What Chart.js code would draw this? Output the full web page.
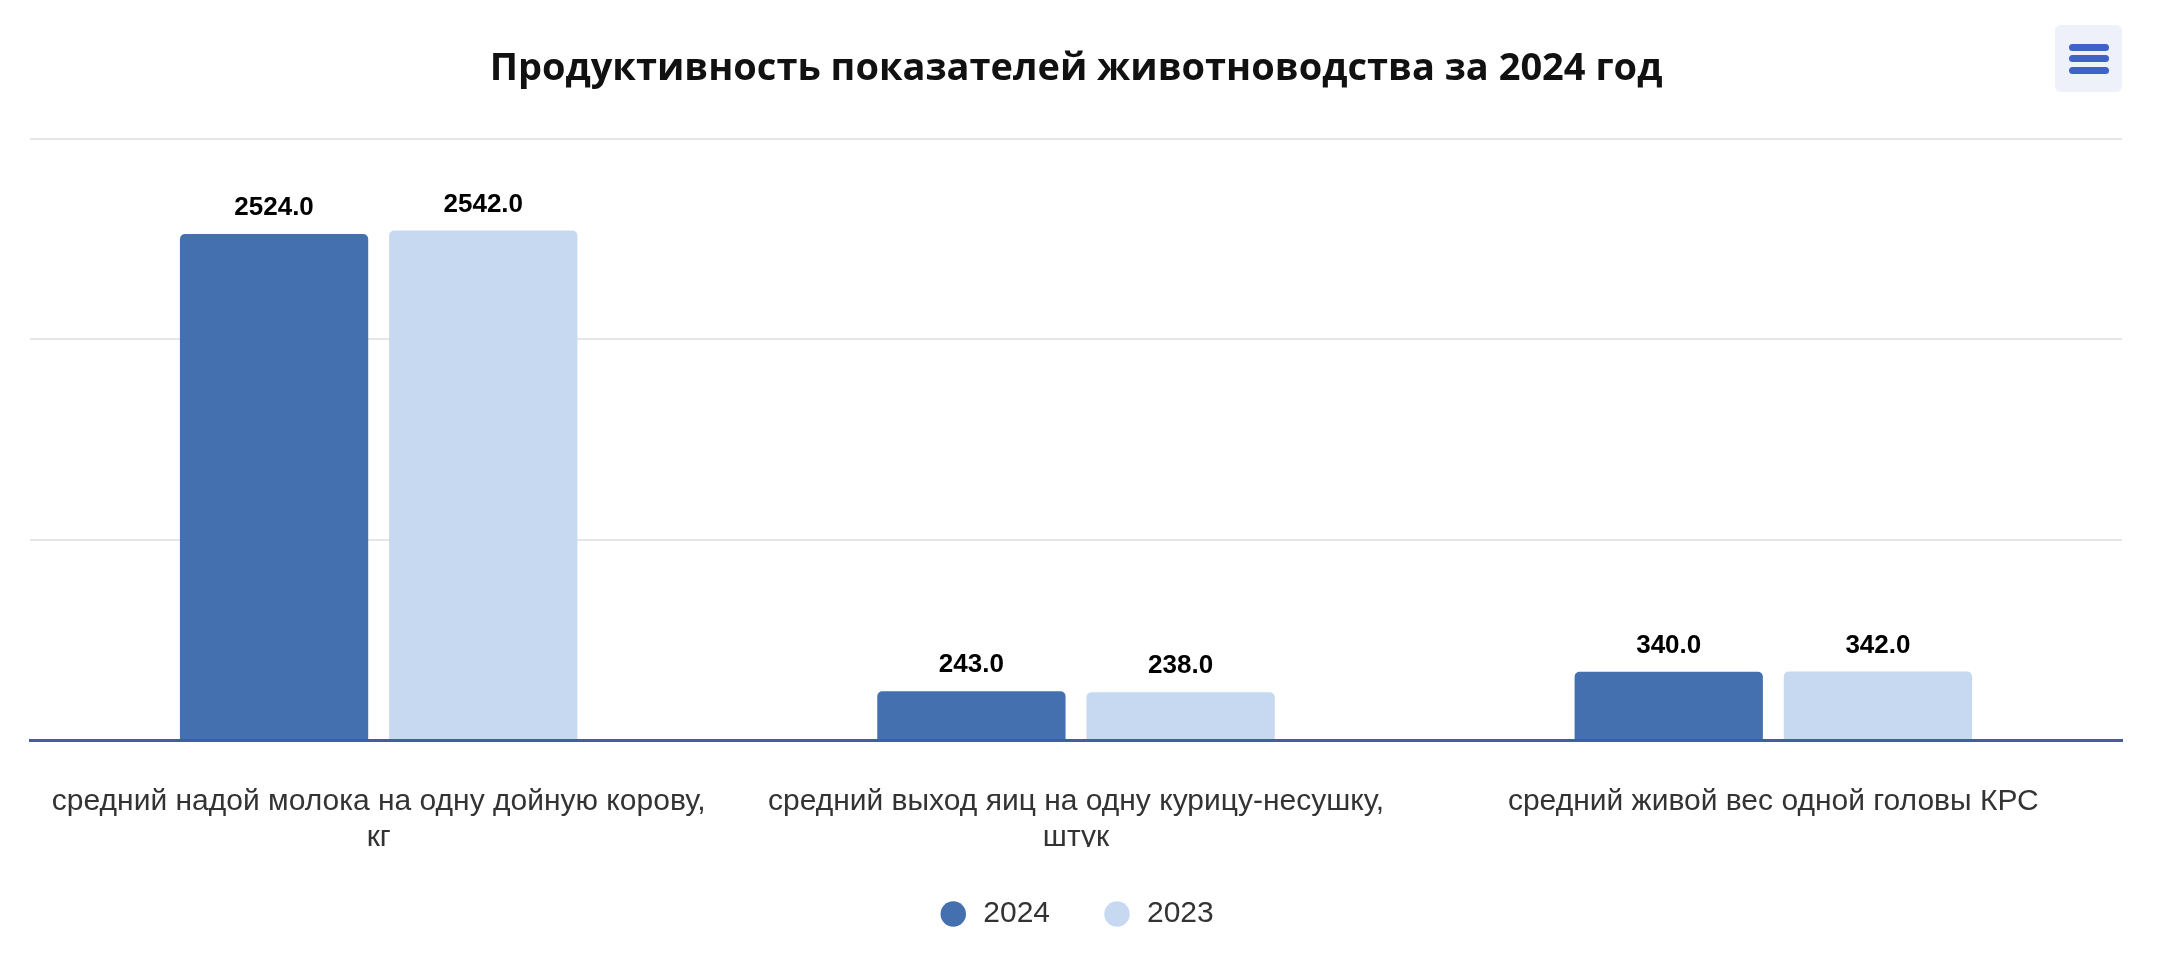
<!DOCTYPE html>
<html lang="ru">
<head>
<meta charset="utf-8">
<title>Продуктивность показателей животноводства</title>
<script src="https://cdn.jsdelivr.net/npm/chart.js@4.4.1/dist/chart.umd.min.js"></script>
<style>
  html, body { margin: 0; padding: 0; background: #fff; }
  #wrap { position: relative; width: 2160px; height: 976px; }
  #menuBtn {
    position: absolute; left: 2055px; top: 25px; width: 67px; height: 67px;
    background: #eef0fa; border-radius: 6px;
  }
  #menuBtn span {
    position: absolute; left: 14px; width: 40px; height: 7px;
    background: #3f62c8; border-radius: 4px;
  }
</style>
</head>
<body>
<div id="wrap">
  <canvas id="chart" width="2160" height="976"></canvas>
  <div id="menuBtn"><span style="top:19px"></span><span style="top:30px"></span><span style="top:42px"></span></div>
</div>
<script>
// data
const categories = [
  ['средний надой молока на одну дойную корову,', 'кг'],
  ['средний выход яиц на одну курицу-несушку,', 'штук'],
  'средний живой вес одной головы КРС'
];
const seriesNames = ['2024', '2023'];
const values2024 = [2524, 243, 340];
const values2023 = [2542, 238, 342];
const yTicks = [0, 1000, 2000, 3000];

const colDark = '#4570b0';
const colLight = '#c6d9f0';

// value labels over bars
const barLabels = {
  id: 'barLabels',
  afterDatasetsDraw(chart) {
    const c = chart.ctx;
    c.save();
    c.font = 'bold 26px "Liberation Sans", Arial, sans-serif';
    c.fillStyle = '#000';
    c.textAlign = 'center';
    c.textBaseline = 'middle';
    chart.data.datasets.forEach((ds, i) => {
      chart.getDatasetMeta(i).data.forEach((bar, j) => {
        c.fillText(ds.data[j].toFixed(1), bar.x, bar.y - 26);
      });
    });
    c.restore();
  }
};

new Chart(document.getElementById('chart').getContext('2d'), {
  type: 'bar',
  data: {
    labels: categories,
    datasets: [
      { label: seriesNames[0], data: values2024, backgroundColor: colDark, borderRadius: 5, borderSkipped: 'bottom' },
      { label: seriesNames[1], data: values2023, backgroundColor: colLight, borderRadius: 5, borderSkipped: 'bottom' }
    ]
  },
  options: {
    responsive: false,
    animation: false,
    categoryPercentage: 0.6,
    barPercentage: 0.9,
    layout: { padding: { left: 30, right: 38, top: 0, bottom: 37 } },
    scales: {
      x: {
        z: 1,
        grid: { display: false },
        border: { display: true, color: '#3f5f9f', width: 3 },
        afterFit: (s) => { s.height -= 45; },
        ticks: {
          color: '#333',
          padding: 36,
          maxRotation: 0,
          autoSkip: false,
          font: { family: '"Liberation Sans", Arial, sans-serif', size: 30, lineHeight: 1.2 }
        }
      },
      y: {
        min: yTicks[0],
        max: yTicks[yTicks.length - 1],
        afterBuildTicks: (s) => { s.ticks = yTicks.map(v => ({ value: v })); },
        ticks: { display: false },
        grid: { color: '#e6e6e6', lineWidth: 2, drawTicks: false },
        border: { display: false }
      }
    },
    plugins: {
      title: {
        display: true,
        text: 'Продуктивность показателей животноводства за 2024 год',
        color: '#111',
        font: { family: '"Open Sans", sans-serif', size: 38, weight: 'bold', lineHeight: 1.2 },
        padding: { top: 46, bottom: 47 }
      },
      legend: {
        position: 'bottom',
        labels: {
          usePointStyle: true,
          pointStyle: 'circle',
          boxWidth: 36,
          boxHeight: 18,
          padding: 52,
          color: '#333',
          font: { family: '"Liberation Sans", Arial, sans-serif', size: 30 }
        }
      },
      tooltip: { enabled: false }
    }
  },
  plugins: [barLabels]
});
</script>
</body>
</html>
